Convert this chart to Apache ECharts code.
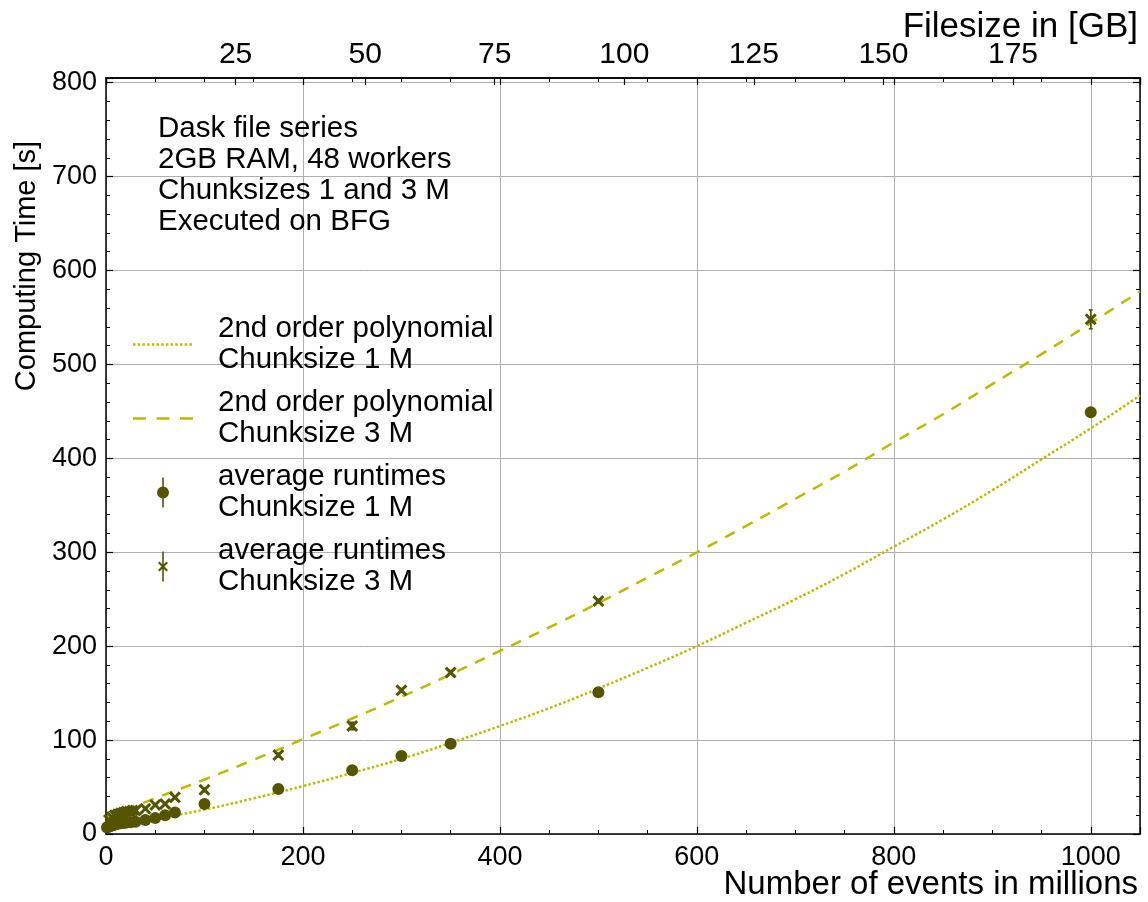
<!DOCTYPE html>
<html>
<head>
<meta charset="utf-8">
<script src="https://cdn.jsdelivr.net/npm/echarts@6/dist/echarts.min.js"></script>
<style>html,body{margin:0;padding:0;background:#fff}#c{width:1148px;height:902px}</style>
</head>
<body>
<div id="c"></div>
<script>
// ---- data ----
const events1 = [1,2,3,4,5,6,7,8,9,10,12,15,18,20,25,30,40,50,60,70,100,175,250,300,350,500,1000];
const time1   = [7,7.5,8,8.5,9,9,9.5,10,10,10.5,11,11.5,12,12,12.5,13,15,17,20,23,32,48,68,83,96,151,449];
const err1    = [0,0,0,0,0,0,0,0,0,0,0,0,0,0,0,0,0,0,0,0,1,1,1,1,1,2,3];
const events3 = [3,6,9,12,15,18,21,24,27,30,40,50,60,70,100,175,250,300,350,500,1000];
const time3   = [15,18,20,21,22,23,24,24,25,25,27,31,32,39,47,84,115,153,172,248,548];
const err3    = [1,1,1,1,1,1,1,1,1,1,1,1,1,1,2,2,4,2,2,2,10];
const fitX    = [0,50,100,150,200,250,300,350,400,450,500,550,600,650,700,750,800,850,900,950,1000,1050];
const fit1    = [7,16,26,38,51,65,80,97,115,134,155,177,200,225,250,277,306,335,366,399,432,467];
const fit3    = [18,38,58,79,101,123,146,170,195,220,246,273,300,328,357,386,417,447,479,511,544,578];
const xTicks  = [0,200,400,600,800,1000];
const yTicks  = [0,100,200,300,400,500,600,700,800];
const gbTicks = [25,50,75,100,125,150,175];
const textBox = ['Dask file series','2GB RAM, 48 workers','Chunksizes 1 and 3 M','Executed on BFG'];
const names = ['2nd order polynomial\nChunksize 1 M','2nd order polynomial\nChunksize 3 M','average runtimes\nChunksize 1 M','average runtimes\nChunksize 3 M'];

const FONT = "'Liberation Sans', Arial, Helvetica, sans-serif";
const OLIVE = '#555500';
const LINEC = '#baba00';

const crossPath = 'path://M0,1.8 L1.8,0 L5,3.2 L8.2,0 L10,1.8 L6.8,5 L10,8.2 L8.2,10 L5,6.8 L1.8,10 L0,8.2 L3.2,5 Z';

// legend icons (60x30 boxes)
function dotsIcon(){ let p='path://M0,0 L0,0 M60,30 L60,30 '; for(let x=0;x<=57;x+=4.7){p+='M'+x.toFixed(2)+',13.75 h2.5 v2.5 h-2.5 Z ';} return p; }
function dashIcon(){ return 'path://M0,0 L0,0 M60,30 L60,30 M0,13.75 h13 v2.5 h-13 Z M23.5,13.75 h13 v2.5 h-13 Z M47,13.75 h13 v2.5 h-13 Z'; }
const circIcon = 'path://M0,15 L0,15 M60,15 L60,15 M29.2,0 L30.8,0 L30.8,30 L29.2,30 Z M36,15 A6,6 0 1 1 24,15 A6,6 0 1 1 36,15 Z';
const crossIcon = 'path://M0,15 L0,15 M60,15 L60,15 M29.2,0 L30.8,0 L30.8,30 L29.2,30 Z M25,11.5 L26.5,10 L30,13.5 L33.5,10 L35,11.5 L31.5,15 L35,18.5 L33.5,20 L30,16.5 L26.5,20 L25,18.5 L28.5,15 Z';

function pairs(xs, ys){ return xs.map((x,i)=>[x, ys[i]]); }
function triples(xs, ys, es){ return xs.map((x,i)=>[x, ys[i], es[i]]); }

function errRender(params, api){
  const x = api.value(0), y = api.value(1), e = api.value(2);
  if(!e) return null;
  const lo = api.coord([x, y - e]), hi = api.coord([x, y + e]);
  const st = {stroke: OLIVE, lineWidth: 1.6};
  return {type:'group', children:[
    {type:'line', shape:{x1:lo[0], y1:lo[1], x2:hi[0], y2:hi[1]}, style: st},
    {type:'line', shape:{x1:lo[0]-2, y1:lo[1], x2:lo[0]+2, y2:lo[1]}, style: st},
    {type:'line', shape:{x1:hi[0]-2, y1:hi[1], x2:hi[0]+2, y2:hi[1]}, style: st}
  ]};
}

const axisLineBlack = {show:true, onZero:false, lineStyle:{color:'#000', width:1.5}};
const chart = echarts.init(document.getElementById('c'), null, {renderer:'canvas'});
chart.setOption({
  animation:false,
  backgroundColor:'#fff',
  textStyle:{fontFamily:FONT},
  grid:{left:106, right:8, top:78, bottom:68, containLabel:false},
  xAxis:[
    {type:'value', position:'bottom', min:0, max:1050, interval:200,
     axisLine:axisLineBlack,
     axisTick:{show:true, inside:true, length:7, lineStyle:{color:'#000', width:1.2}},
     minorTick:{show:true, splitNumber:4, length:4, lineStyle:{color:'#000', width:1}},
     splitLine:{show:true, lineStyle:{color:'#b0b0b0', width:1}},
     axisLabel:{show:true, margin:10, fontSize:27, color:'#000', fontFamily:FONT,
       formatter:v=> xTicks.indexOf(v)>=0 ? String(v) : ''}},
    {type:'value', position:'top', min:0, max:199.5, interval:25,
     axisLine:axisLineBlack,
     axisTick:{show:true, inside:true, length:7, lineStyle:{color:'#000', width:1.2}},
     splitLine:{show:false},
     axisLabel:{show:true, margin:8, fontSize:30, color:'#000', fontFamily:"'Liberation Sans Narrow', 'Liberation Sans', Arial, sans-serif",
       formatter:v=> gbTicks.indexOf(v)>=0 ? String(v) : ''}},
    {type:'value', position:'top', min:0, max:1050, interval:200,
     axisLine:axisLineBlack,
     axisTick:{show:true, inside:true, length:7, lineStyle:{color:'#000', width:1.2}},
     minorTick:{show:true, splitNumber:4, length:4, lineStyle:{color:'#000', width:1}},
     splitLine:{show:false}, axisLabel:{show:false}}
  ],
  yAxis:[
    {type:'value', position:'left', min:0, max:805, interval:100,
     axisLine:axisLineBlack,
     axisTick:{show:true, inside:true, length:7, lineStyle:{color:'#000', width:1.2}},
     minorTick:{show:true, splitNumber:5, length:4, lineStyle:{color:'#000', width:1}},
     splitLine:{show:true, lineStyle:{color:'#b0b0b0', width:1}},
     axisLabel:{show:true, margin:9, fontSize:27, color:'#000', fontFamily:FONT,
       formatter:v=> yTicks.indexOf(v)>=0 ? String(v) : ''}},
    {type:'value', position:'right', min:0, max:805, interval:100,
     axisLine:axisLineBlack,
     axisTick:{show:true, inside:true, length:7, lineStyle:{color:'#000', width:1.2}},
     minorTick:{show:true, splitNumber:5, length:4, lineStyle:{color:'#000', width:1}},
     splitLine:{show:false}, axisLabel:{show:false}}
  ],
  legend:{
    orient:'vertical', left:133, top:313, padding:0, itemWidth:60, itemHeight:30, itemGap:11,
    selectedMode:false,
    itemStyle:{borderWidth:0},
    textStyle:{fontSize:29.5, lineHeight:31.5, color:'#000', fontFamily:FONT, padding:[0,0,0,20]},
    data:[
      {name:names[0], icon:dotsIcon(), itemStyle:{color:LINEC}},
      {name:names[1], icon:dashIcon(), itemStyle:{color:LINEC}},
      {name:names[2], icon:circIcon, itemStyle:{color:OLIVE}},
      {name:names[3], icon:crossIcon, itemStyle:{color:OLIVE}}
    ]
  },
  graphic:[
    {type:'text', x:158, y:113.5, z:100, style:{text:textBox.join('\n'), font:"29.5px "+FONT, lineHeight:31, fill:'#000', verticalAlign:'top', align:'left'}},
    {type:'text', x:1138, y:885, z:100, style:{text:'Number of events in millions', font:"33px "+FONT, fill:'#000', align:'right', verticalAlign:'middle'}},
    {type:'text', x:1138, y:27, z:100, style:{text:'Filesize in [GB]', font:"35px "+FONT, fill:'#000', align:'right', verticalAlign:'middle'}},
    {type:'text', x:27, y:266, rotation:Math.PI/2, z:100, style:{text:'Computing Time [s]', font:"29px "+FONT, fill:'#000', align:'center', verticalAlign:'middle'}}
  ],
  series:[
    {name:names[0], type:'line', xAxisIndex:0, yAxisIndex:0, data:pairs(fitX, fit1), showSymbol:false, symbol:'none', smooth:true, z:2,
     color:LINEC, lineStyle:{color:LINEC, width:2.5, type:[2.5,2.2]}},
    {name:names[1], type:'line', xAxisIndex:0, yAxisIndex:0, data:pairs(fitX, fit3), showSymbol:false, symbol:'none', smooth:true, z:2,
     color:LINEC, lineStyle:{color:LINEC, width:2.5, type:[11,9]}},
    {name:names[2], type:'scatter', xAxisIndex:0, yAxisIndex:0, data:pairs(events1, time1), symbol:'circle', symbolSize:12, z:4,
     color:OLIVE, itemStyle:{color:OLIVE, opacity:1}},
    {name:names[3], type:'scatter', xAxisIndex:0, yAxisIndex:0, data:pairs(events3, time3), symbol:crossPath, symbolSize:12, z:4,
     color:OLIVE, itemStyle:{color:OLIVE, opacity:1}},
    {name:'err1', type:'custom', xAxisIndex:0, yAxisIndex:0, renderItem:errRender, data:triples(events1, time1, err1), encode:{x:0, y:1}, z:3, silent:true},
    {name:'err3', type:'custom', xAxisIndex:0, yAxisIndex:0, renderItem:errRender, data:triples(events3, time3, err3), encode:{x:0, y:1}, z:3, silent:true}
  ]
});
</script>
</body>
</html>
